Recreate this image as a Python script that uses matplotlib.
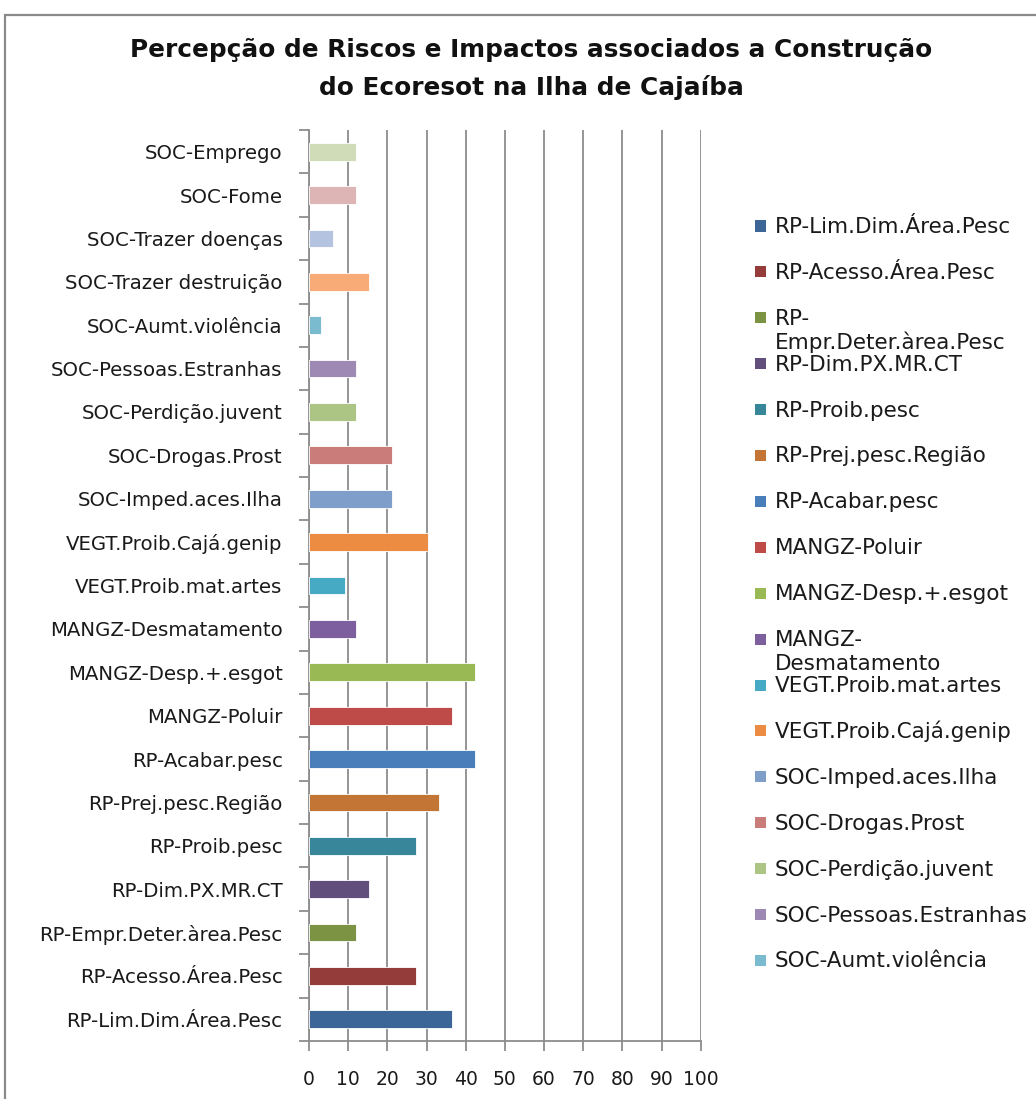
import matplotlib.pyplot as plt
from matplotlib.patches import Rectangle

plt.rcParams['font.family'] = ['DejaVu Sans']

# categories, bottom to top
categories = [
    'RP-Lim.Dim.Área.Pesc', 'RP-Acesso.Área.Pesc', 'RP-Empr.Deter.àrea.Pesc',
    'RP-Dim.PX.MR.CT', 'RP-Proib.pesc', 'RP-Prej.pesc.Região', 'RP-Acabar.pesc',
    'MANGZ-Poluir', 'MANGZ-Desp.+.esgot', 'MANGZ-Desmatamento',
    'VEGT.Proib.mat.artes', 'VEGT.Proib.Cajá.genip', 'SOC-Imped.aces.Ilha',
    'SOC-Drogas.Prost', 'SOC-Perdição.juvent', 'SOC-Pessoas.Estranhas',
    'SOC-Aumt.violência', 'SOC-Trazer destruição', 'SOC-Trazer doenças',
    'SOC-Fome', 'SOC-Emprego',
]
values = [36.4, 27.3, 12.1, 15.2, 27.3, 33.3, 42.4, 36.4, 42.4, 12.1,
          9.1, 30.3, 21.2, 21.2, 12.1, 12.1, 3.0, 15.2, 6.1, 12.1, 12.1]
colors = ['#3D6698', '#943C3A', '#7B9343', '#624E7C', '#37869A', '#C27535',
          '#4A7EBB', '#BE4B48', '#98B954', '#7D5FA0', '#46AAC5', '#EC8C42',
          '#7F9ECA', '#C97C7A', '#ADC584', '#9E89B4', '#7BBBD0', '#F8AB76',
          '#B4C4E0', '#DDB5B5', '#CFDCB7']

# legend is cut off in the original after the 17th series
legend_labels = [
    'RP-Lim.Dim.Área.Pesc', 'RP-Acesso.Área.Pesc', 'RP-\nEmpr.Deter.àrea.Pesc',
    'RP-Dim.PX.MR.CT', 'RP-Proib.pesc', 'RP-Prej.pesc.Região', 'RP-Acabar.pesc',
    'MANGZ-Poluir', 'MANGZ-Desp.+.esgot', 'MANGZ-\nDesmatamento',
    'VEGT.Proib.mat.artes', 'VEGT.Proib.Cajá.genip', 'SOC-Imped.aces.Ilha',
    'SOC-Drogas.Prost', 'SOC-Perdição.juvent', 'SOC-Pessoas.Estranhas',
    'SOC-Aumt.violência',
]

W, H = 1036, 1099
fig = plt.figure(figsize=(W / 100, H / 100), dpi=100)
ax = fig.add_axes([309 / W, 1 - 1041 / H, (700.7 - 309) / W, (1041 - 130) / H])

grid_c = '#8C8C8C'
text_c = '#1a1a1a'
ypos = range(len(categories))
ax.barh(ypos, values, height=0.41, color=colors, edgecolor='white',
        linewidth=0.6, zorder=3)

ax.set_xlim(0, 100)
ax.set_ylim(-0.5, len(categories) - 0.5)
ax.set_xticks(range(0, 101, 10))
ax.set_yticks(list(ypos))
ax.set_yticklabels(categories)
ax.set_yticks([i - 0.5 for i in range(len(categories) + 1)], minor=True)
ax.tick_params(axis='y', which='major', length=0, pad=19, labelsize=14.2,
               labelcolor=text_c)
ax.tick_params(axis='y', which='minor', length=7, width=1.3, color=grid_c)
ax.tick_params(axis='x', length=7, width=1.3, color=grid_c, pad=14,
               labelsize=13.5, labelcolor=text_c)
ax.grid(axis='x', color=grid_c, linewidth=1.3, zorder=0)
for s in ['top', 'right']:
    ax.spines[s].set_visible(False)
for s in ['left', 'bottom']:
    ax.spines[s].set_color(grid_c)
    ax.spines[s].set_linewidth(1.3)

# title
fig.text(531 / W, 1 - 69 / H,
         'Percepção de Riscos e Impactos associados a Construção\ndo Ecoresot na Ilha de Cajaíba',
         ha='center', va='center', fontsize=17.8, fontweight='bold',
         linespacing=1.6, color='#111111')

# legend drawn by hand so wrapped entries keep uniform spacing
y0, step, line_h = 226, 45.9, 24
for i, lab in enumerate(legend_labels):
    yc = y0 + i * step
    fig.patches.append(Rectangle((755 / W, 1 - (yc + 5.5) / H), 11 / W, 11 / H,
                                 transform=fig.transFigure,
                                 facecolor=colors[i], edgecolor='none'))
    for k, line in enumerate(lab.split('\n')):
        fig.text(775 / W, 1 - (yc + 7 + k * line_h) / H, line, ha='left',
                 va='baseline', fontsize=15.5, color=text_c)

# outer chart frame
fig.patches.append(Rectangle((5 / W, -0.1), 1.2, 1.1 - 15 / H,
                             transform=fig.transFigure, facecolor='none',
                             edgecolor='#8a8a8a', linewidth=1.6, clip_on=False))

fig.savefig('out.png', dpi=100)
